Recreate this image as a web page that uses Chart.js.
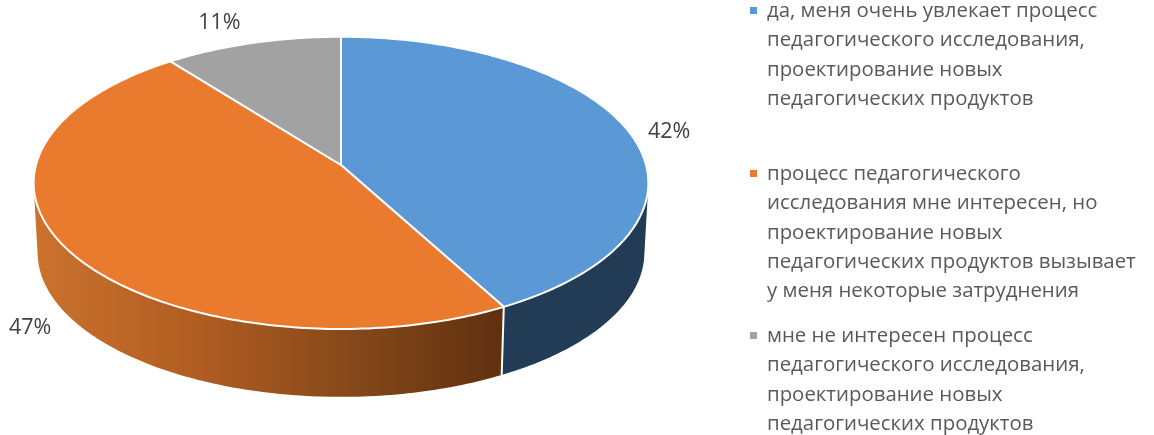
<!DOCTYPE html>
<html lang="ru">
<head>
<meta charset="utf-8">
<script src="https://cdn.jsdelivr.net/npm/chart.js@4"></script>
<style>
    html, body { margin: 0; padding: 0; background: #fff; overflow: hidden; }
    #wrap { position: relative; width: 1154px; height: 435px; }
    #pie { position: absolute; left: 0; top: 0; }
    .legend-item { position: absolute; left: 767px; font: 20.4px/29.3px "Open Sans", sans-serif; color: #595959; white-space: nowrap; }
    .legend-item i { position: absolute; left: -17px; top: 12px; width: 7px; height: 7px; }
</style>
</head>
<body>
<div id="wrap">
    <canvas id="pie" width="1154" height="435"></canvas>
</div>
<script>
// Data
const categories = [
    ['да, меня очень увлекает процесс', 'педагогического исследования,', 'проектирование новых', 'педагогических продуктов'],
    ['процесс педагогического', 'исследования мне интересен, но', 'проектирование новых', 'педагогических продуктов вызывает', 'у меня некоторые затруднения'],
    ['мне не интересен процесс', 'педагогического исследования,', 'проектирование новых', 'педагогических продуктов']
];
const seriesValues = [42.1, 47.4, 10.5];
const sliceColours = ['#5b98d6', '#ea7b2e', '#a3a2a2'];

// Look of the tilted pie
const legendTops = [-5, 158, 320];
const labelOffsets = [[41, 1], [-37, 79], [-33, -20]];
const tilt = { sx: 1.86, sy: 0.8776, persp: 0.1224 };
const wallDrop = 70, wallShrink = 0.987;

// Moves a pie angle (radians, as Chart.js keeps it) onto the tilted disc
function project(arc, angle, shrink, drop) {
    const X = Math.cos(angle), Y = Math.sin(angle);
    const w = 1 - tilt.persp * Y;
    const r = arc.outerRadius * shrink;
    return { x: arc.x + r * tilt.sx * X / w, y: arc.y + drop + r * tilt.sy * Y / w };
}

function rim(ctx, arc, from, to, shrink, drop) {
    const steps = Math.max(2, Math.ceil(Math.abs(to - from) * 60));
    for (let i = 0; i <= steps; i++) {
        const p = project(arc, from + (to - from) * i / steps, shrink, drop);
        ctx.lineTo(p.x, p.y);
    }
}

function wallFill(ctx, index) {
    if (index === 0) return '#213c54';
    if (index === 2) return '#62626a';
    const g = ctx.createLinearGradient(35, 0, 505, 0);
    g.addColorStop(0, '#cb722d');
    g.addColorStop(0.35, '#b05c22');
    g.addColorStop(0.68, '#84481a');
    g.addColorStop(1, '#5f300f');
    return g;
}

// One strip of wall, always wound the same way so overlapping strips add up in one fill
function addStrip(ctx, arc, a, b) {
    let pts = [project(arc, a, 1, 0), project(arc, b, 1, 0), project(arc, b, wallShrink, wallDrop), project(arc, a, wallShrink, wallDrop)];
    let area = 0;
    pts.forEach((p, i) => {
        const q = pts[(i + 1) % 4];
        area += p.x * q.y - q.x * p.y;
    });
    if (area < 0) pts = pts.reverse();
    ctx.moveTo(pts[0].x, pts[0].y);
    pts.slice(1).forEach(p => ctx.lineTo(p.x, p.y));
    ctx.closePath();
}

const tiltedPie = {
    id: 'tiltedPie',
    beforeDatasetDraw(chart, args) {
        const ctx = chart.ctx;
        const arcs = chart.getDatasetMeta(args.index).data;

        // side walls first, the top face covers whatever is behind it
        arcs.forEach((arc, i) => {
            const steps = Math.ceil((arc.endAngle - arc.startAngle) * 60);
            const step = (arc.endAngle - arc.startAngle) / steps;
            ctx.beginPath();
            for (let s = 0; s < steps; s++) {
                addStrip(ctx, arc, arc.startAngle + s * step, arc.startAngle + (s + 1) * step);
            }
            ctx.fillStyle = wallFill(ctx, i);
            ctx.fill();
        });

        // white seam where two slices meet on the front wall
        arcs.forEach(arc => {
            if (Math.sin(arc.startAngle) <= 0) return;
            const top = project(arc, arc.startAngle, 1, 0);
            const bottom = project(arc, arc.startAngle, wallShrink, wallDrop);
            ctx.beginPath();
            ctx.moveTo(top.x, top.y);
            ctx.lineTo(bottom.x, bottom.y);
            ctx.strokeStyle = '#fff';
            ctx.lineWidth = 2;
            ctx.stroke();
        });

        // top face
        arcs.forEach(arc => {
            ctx.beginPath();
            ctx.moveTo(arc.x, arc.y);
            rim(ctx, arc, arc.startAngle, arc.endAngle, 1, 0);
            ctx.closePath();
            ctx.fillStyle = arc.options.backgroundColor;
            ctx.strokeStyle = arc.options.borderColor;
            ctx.lineWidth = arc.options.borderWidth;
            ctx.lineJoin = 'round';
            ctx.fill();
            ctx.stroke();
        });

        // percent labels
        ctx.font = '21.5px "Open Sans", sans-serif';
        ctx.fillStyle = '#404040';
        ctx.textAlign = 'center';
        ctx.textBaseline = 'middle';
        arcs.forEach((arc, i) => {
            const mid = project(arc, (arc.startAngle + arc.endAngle) / 2, 1, 0);
            ctx.fillText(Math.round(seriesValues[i]) + '%', mid.x + labelOffsets[i][0], mid.y + labelOffsets[i][1]);
        });
        return false;
    }
};

new Chart(document.getElementById('pie'), {
    type: 'pie',
    data: {
        labels: categories.map(lines => lines.join(' ')),
        datasets: [{
            data: seriesValues,
            backgroundColor: sliceColours,
            borderColor: '#fff',
            borderWidth: 2
        }]
    },
    options: {
        responsive: false,
        animation: false,
        layout: { padding: { right: 472, bottom: 105 } },
        plugins: { legend: { display: false }, tooltip: { enabled: false } }
    },
    plugins: [tiltedPie]
});

// Legend on the right
const wrap = document.getElementById('wrap');
categories.forEach((lines, i) => {
    const item = document.createElement('div');
    item.className = 'legend-item';
    item.style.top = legendTops[i] + 'px';
    const marker = document.createElement('i');
    marker.style.background = sliceColours[i];
    item.appendChild(marker);
    lines.forEach(line => {
        const row = document.createElement('div');
        row.textContent = line;
        item.appendChild(row);
    });
    wrap.appendChild(item);
});
</script>
</body>
</html>
